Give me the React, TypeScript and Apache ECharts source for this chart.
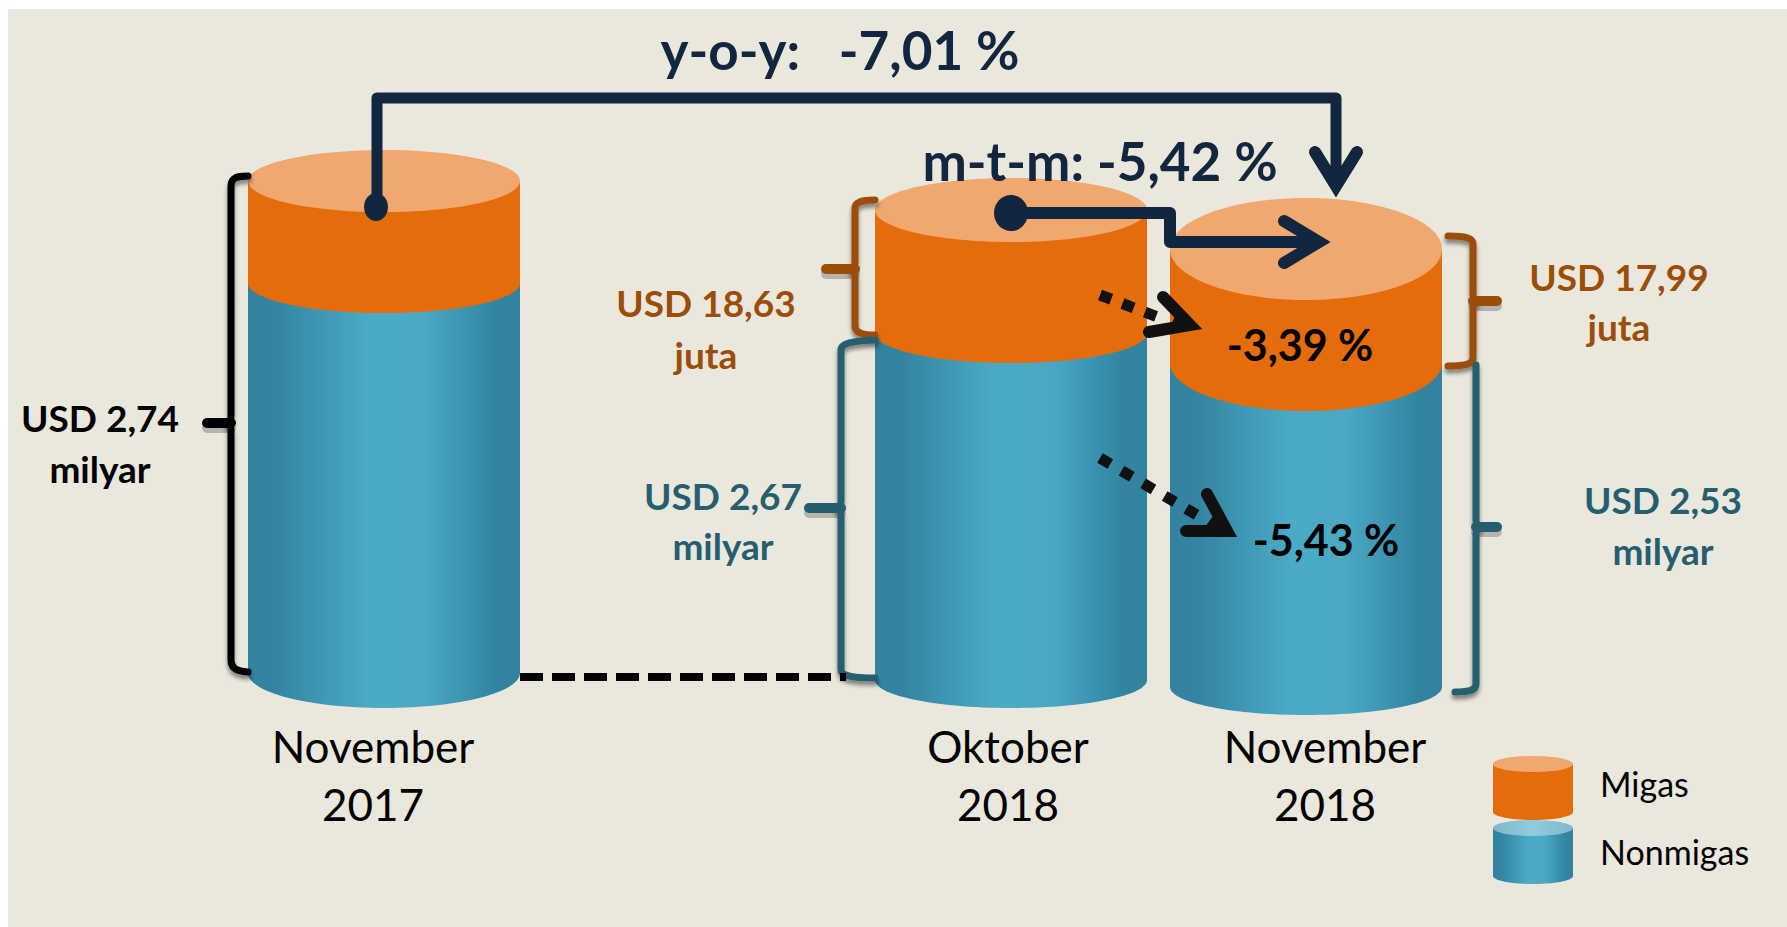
import React, { useEffect, useRef } from "react";
import * as echarts from "echarts";

// ---- data ----
const categories = ["November 2017", "Oktober 2018", "November 2018"];
const categoryLine1 = ["November", "Oktober", "November"];
const categoryLine2 = ["2017", "2018", "2018"];
// cylinders are schematic in the source: these are their drawn heights
const baseLevel = [254, 247, 240];
const nonmigasHeight = [390, 347, 324];
const migasHeight = [102, 123, 114];
const nonmigasLabels = ["USD 2,74", "USD 2,67", "USD 2,53"];
const migasLabels = ["USD 18,63", "USD 17,99"];
const yoyLabel = "y-o-y:   -7,01 %";
const mtmLabel = "m-t-m: -5,42 %";
const migasChangeLabel = "-3,39 %";
const nonmigasChangeLabel = "-5,43 %";
const legendNames = ["Migas", "Nonmigas"];

// ---- layout and style ----
const W = 1787;
const H = 927;
const CYL_X = [384, 1011, 1306];
const CYL_RX = 136;
const RY_BASE = [35, 28, 28];
const RY_MID = [30, 30, 48];
const RY_TOP = [31, 32, 51];
const NAVY = "#12263F";
const BROWN = "#9C4D07";
const TEAL = "#265E70";
const ORANGE = "#E46C0A";
const ORANGE_TOP = "#F0A86F";
const FONT = "Lato";
const blueGrad = () =>
  new echarts.graphic.LinearGradient(0, 0, 1, 0, [
    { offset: 0, color: "#31839F" },
    { offset: 0.1, color: "#3484A1" },
    { offset: 0.45, color: "#4BABC6" },
    { offset: 0.65, color: "#4AA8C4" },
    { offset: 0.92, color: "#31839F" },
    { offset: 1, color: "#31839F" },
  ]);

function bodyPoints(cx: number, rx: number, top: number, bot: number, ry: number) {
  const pts: number[][] = [[cx - rx, top], [cx - rx, bot]];
  for (let k = 1; k < 60; k++) {
    const a = Math.PI - (k / 60) * Math.PI;
    pts.push([cx + rx * Math.cos(a), bot + ry * Math.sin(a)]);
  }
  pts.push([cx + rx, bot], [cx + rx, top]);
  return pts;
}

const BRACES: Record<string, string> = {
  braceBlack:
    "M248 176 C236 176 231 178 231 186 L231 416 Q231 423 225 423 Q231 423 231 430 L231 660 C231 668 236 671 248 672",
  braceBrownL:
    "M875 200 C862 200 855 202 855 208 L855 262 Q855 269 849 269 Q855 269 855 276 L855 326 C855 332 862 335 875 335",
  braceTealL:
    "M875 340 C850 341 841 344 841 350 L841 501 Q841 508 835 508 Q841 508 841 515 L841 670 C841 675 850 678 875 678",
  braceBrownR:
    "M1448 236 C1466 236 1473 238 1473 244 L1473 294 Q1473 301 1479 301 Q1473 301 1473 308 L1473 358 C1473 364 1466 366 1448 366",
  braceTealR:
    "M1476 365 L1476 520 Q1476 527 1482 527 Q1476 527 1476 534 L1476 684 C1476 690 1470 692 1455 692",
};
Object.keys(BRACES).forEach((k) =>
  echarts.graphic.registerShape(k, echarts.graphic.extendPath(BRACES[k], {}))
);

const shadow = { shadowBlur: 4, shadowColor: "rgba(0,0,0,0.45)", shadowOffsetX: 0, shadowOffsetY: 4 };

function brace(name: string, stem: number[], color: string, lw: number) {
  return [
    {
      type: "line",
      z: 8,
      shape: { x1: stem[0], y1: stem[1] + 5, x2: stem[2], y2: stem[1] + 5 },
      style: { stroke: "rgba(0,0,0,0.22)", lineWidth: lw + 3, lineCap: "round" },
    },
    { type: name, x: 0, y: 0, z: 9, style: { fill: "none", stroke: color, lineWidth: lw, lineCap: "round", ...shadow } },
    {
      type: "line",
      z: 9,
      shape: { x1: stem[0], y1: stem[1], x2: stem[2], y2: stem[1] },
      style: { stroke: color, lineWidth: lw + 3, lineCap: "round" },
    },
  ];
}

function line(points: number[][], color: string, lw: number, extra: any = {}) {
  return {
    type: "polyline",
    z: 11,
    shape: { points },
    style: { stroke: color, fill: "none", lineWidth: lw, lineCap: "butt", lineJoin: "miter", miterLimit: 12, ...extra },
  };
}

function text(t: string, x: number, y: number, font: string, fill: string, align = "center") {
  return {
    type: "text",
    z: 12,
    x,
    y,
    style: { text: t, font: `${font} ${FONT}`, fill, textAlign: align, textVerticalAlign: "middle", verticalAlign: "middle" },
  };
}

function cylinderLegend(cx: number, top: number, bot: number, bodyFill: any, topFill: any, botRy: number) {
  return [
    { type: "polygon", z: 5, shape: { points: bodyPoints(cx, 40, top, bot, botRy) }, style: { fill: bodyFill } },
    { type: "ellipse", z: 6, shape: { cx, cy: top, rx: 40, ry: 8 }, style: { fill: topFill } },
  ];
}

function renderSegment(kind: "nonmigas" | "migas") {
  return (params: any, api: any) => {
    const i = params.dataIndex;
    const cx = CYL_X[i];
    const lo = api.value(1);
    const hi = lo + api.value(2);
    const pLo = api.coord([cx, lo]);
    const pHi = api.coord([cx, hi]);
    if (kind === "nonmigas") {
      return {
        type: "polygon",
        shape: { points: bodyPoints(cx, CYL_RX, pHi[1], pLo[1], RY_BASE[i]) },
        style: { fill: blueGrad() },
      };
    }
    return {
      type: "group",
      children: [
        {
          type: "polygon",
          shape: { points: bodyPoints(cx, CYL_RX, pHi[1], pLo[1], RY_MID[i]) },
          style: { fill: ORANGE },
        },
        {
          type: "ellipse",
          shape: { cx, cy: pHi[1], rx: CYL_RX, ry: RY_TOP[i] },
          style: { fill: ORANGE_TOP },
        },
      ],
    };
  };
}

export default function App() {
  const ref = useRef<HTMLDivElement>(null);
  useEffect(() => {
    document.body.style.margin = "0";
    document.body.style.overflow = "hidden";
    const chart = echarts.init(ref.current!, null, { renderer: "svg" });
    const labelFont = "bold 37px";
    const catFont = "44px";
    const changeFont = "bold 43px";
    const legendBlueTop = new echarts.graphic.LinearGradient(0, 0, 1, 0, [
      { offset: 0, color: "#7FB8CB" },
      { offset: 0.5, color: "#93CBDD" },
      { offset: 1, color: "#7FB8CB" },
    ]);
    const graphicElements: any[] = [
      { type: "rect", z: 0, shape: { x: 8, y: 9, width: W - 8, height: H - 9 }, style: { fill: "#EAE8DC" } },
      // dashed reference line
      line([[520, 677], [846, 677]], "#000", 8, { lineDash: [23, 9] }),
      // braces
      ...brace("braceBlack", [207, 423, 231], "#000", 7),
      ...brace("braceBrownL", [826, 269, 855], BROWN, 7),
      ...brace("braceTealL", [809, 508, 841], TEAL, 7),
      ...brace("braceBrownR", [1497, 301, 1473], BROWN, 7),
      ...brace("braceTealR", [1497, 527, 1476], TEAL, 7),
      // y-o-y connector
      line([[377, 205], [377, 98], [1336, 98], [1336, 186]], NAVY, 11, { lineJoin: "round" }),
      line([[1315, 152], [1336, 186], [1357, 152]], NAVY, 12, { lineCap: "round" }),
      { type: "ellipse", z: 11, shape: { cx: 376, cy: 207, rx: 12, ry: 14 }, style: { fill: NAVY } },
      // m-t-m connector
      line([[1011, 213], [1170, 213], [1170, 242], [1318, 242]], NAVY, 12, { lineJoin: "round" }),
      line([[1284, 221], [1319, 242], [1284, 263]], NAVY, 12, { lineCap: "round" }),
      { type: "ellipse", z: 11, shape: { cx: 1011, cy: 213, rx: 17, ry: 18 }, style: { fill: NAVY } },
      // dotted change arrows
      line([[1100, 295], [1158, 317]], "#111", 11, { lineDash: [12, 12] }),
      line([[1163, 297], [1190, 325], [1149, 332]], "#111", 12, { lineCap: "round" }),
      { type: "polygon", z: 11, shape: { points: [[1177, 311], [1198, 328], [1170, 328]] }, style: { fill: "#111" } },
      line([[1100, 458], [1197, 515]], "#111", 11, { lineDash: [12, 13] }),
      line([[1207, 494], [1227, 531], [1186, 531]], "#111", 12, { lineCap: "round" }),
      { type: "polygon", z: 11, shape: { points: [[1216, 512], [1233, 535], [1202, 531]] }, style: { fill: "#111" } },
      // value labels
      text(nonmigasLabels[0], 100, 417, labelFont, "#000"),
      text("milyar", 100, 468, labelFont, "#000"),
      text(migasLabels[0], 706, 302, labelFont, BROWN),
      text("juta", 706, 354, labelFont, BROWN),
      text(nonmigasLabels[1], 723, 495, labelFont, TEAL),
      text("milyar", 723, 545, labelFont, TEAL),
      text(migasLabels[1], 1619, 276, labelFont, BROWN),
      text("juta", 1619, 326, labelFont, BROWN),
      text(nonmigasLabels[2], 1663, 499, labelFont, TEAL),
      text("milyar", 1663, 550, labelFont, TEAL),
      text(migasChangeLabel, 1300, 344, changeFont, "#000"),
      text(nonmigasChangeLabel, 1326, 539, changeFont, "#000"),
      text(yoyLabel, 840, 49, "bold 53px", NAVY),
      text(mtmLabel, 1100, 160, "bold 53px", NAVY),
      // category labels
      ...[373, 1008, 1325].flatMap((x, i) => [
        text(categoryLine1[i], x, 746, catFont, "#000"),
        text(categoryLine2[i], x, 804, catFont, "#000"),
      ]),
      // legend
      ...cylinderLegend(1533, 764, 812, ORANGE, ORANGE_TOP, 8),
      ...cylinderLegend(1533, 828, 876, blueGrad(), legendBlueTop, 8),
      text(legendNames[0], 1600, 783, "34px", "#000", "left"),
      text(legendNames[1], 1600, 851, "34px", "#000", "left"),
    ];
    chart.setOption({
      animation: false,
      backgroundColor: "#ffffff",
      tooltip: { show: false },
      grid: { left: 0, right: 0, top: 0, bottom: 0 },
      xAxis: { type: "value", min: 0, max: W, show: false },
      yAxis: { type: "value", min: 0, max: H, show: false },
      series: [
        {
          name: "Nonmigas",
          type: "custom",
          silent: true,
          clip: false,
          z: 3,
          renderItem: renderSegment("nonmigas"),
          data: categories.map((_, i) => [i, baseLevel[i], nonmigasHeight[i]]),
        },
        {
          name: "Migas",
          type: "custom",
          silent: true,
          clip: false,
          z: 4,
          renderItem: renderSegment("migas"),
          data: categories.map((_, i) => [i, baseLevel[i] + nonmigasHeight[i], migasHeight[i]]),
        },
      ],
      graphic: { elements: graphicElements },
    });
    return () => chart.dispose();
  }, []);
  return <div ref={ref} style={{ width: W, height: H }} />;
}
